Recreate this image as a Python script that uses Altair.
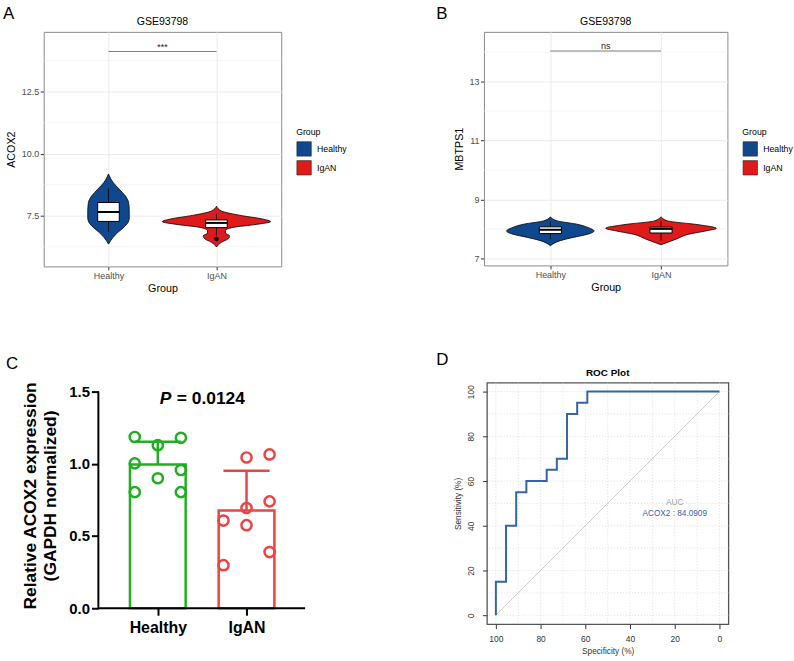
import altair as alt
import pandas as pd

FONT = "Liberation Sans"
GROUPS = ["Healthy", "IgAN"]
GROUP_POS = [1, 2]
VIOLIN_COLORS = ["#11478D", "#DE1A1A"]
BAR_COLORS = ["#22AD22", "#E84545"]
ROC_BLUE = "#3464A8"

# ---------------- Panel A: ACOX2 in GSE93798 ----------------
A_HEALTHY_VAL = [9.18, 8.85, 8.57, 8.29, 8.03, 7.70, 7.40, 7.23, 7.03, 6.83, 6.63, 6.36]
A_HEALTHY_DEN = [0, .041, .099, .157, .186, .192, .192, .181, .141, .087, .043, 0]
A_IGAN_VAL = [7.88, 7.69, 7.50, 7.37, 7.26, 7.15, 7.03, 6.90, 6.80, 6.69, 6.57, 6.43, 6.24]
A_IGAN_DEN = [0, .046, .239, .424, .502, .368, .154, .083, .083, .122, .108, .046, 0]
A_LO = [6.85, 6.70]
A_Q1 = [7.27, 7.02]
A_MED = [7.65, 7.21]
A_Q3 = [8.03, 7.33]
A_HI = [8.60, 7.58]
A_OUTLIER = [6.56]
A_Y_MAJOR = [7.5, 10.0, 12.5]
A_Y_MINOR = [6.25, 8.75, 11.25, 13.75]
A_SIG = "***"
A_BRACKET = 14.11

# ---------------- Panel B: MBTPS1 in GSE93798 ----------------
B_HEALTHY_VAL = [8.41, 8.27, 8.16, 8.05, 7.93, 7.82, 7.71, 7.60, 7.43]
B_HEALTHY_DEN = [0, .063, .240, .339, .395, .339, .206, .090, 0]
B_IGAN_VAL = [8.41, 8.27, 8.14, 8.02, 7.93, 7.82, 7.65, 7.46]
B_IGAN_DEN = [0, .060, .341, .500, .404, .251, .135, 0]
B_LO = [7.65, 7.60]
B_Q1 = [7.84, 7.86]
B_MED = [7.97, 8.00]
B_Q3 = [8.07, 8.06]
B_HI = [8.25, 8.28]
B_Y_MAJOR = [7, 9, 11, 13]
B_Y_MINOR = [8, 10, 12, 14]
B_SIG = "ns"
B_BRACKET = 14.04

DATASET = "GSE93798"

# ---------------- Panel C: qPCR, ACOX2 / GAPDH ----------------
C_HEALTHY = [1.186, 1.180, 1.129, 1.003, 0.957, 0.900, 0.804, 0.804]
C_HEALTHY_COL = [-1, 1, 0, -1, 1, 0, -1, 1]
C_IGAN = [1.044, 1.065, 0.607, 0.694, 0.575, 0.740, 0.389, 0.298]
C_IGAN_COL = [0, 1, -1, 0, 0, 1, 1, -1]
C_Y_TICKS = [0, 0.5, 1.0, 1.5]
C_Y_MAX = 1.562
C_X_DOMAIN = [-0.286, 2.66]
C_AXIS_X0 = 0.33
C_P_VALUE = "= 0.0124"

# ---------------- Panel D: ROC curve ----------------
ROC_SPEC = [100, 100, 95.45, 95.45, 90.91, 90.91, 86.36, 86.36, 77.27, 77.27,
            72.73, 72.73, 68.18, 68.18, 63.64, 63.64, 59.09, 59.09, 0]
ROC_SENS = [0, 15, 15, 40, 40, 55, 55, 60, 60, 65, 65, 70, 70, 90, 90, 95, 95, 100, 100]
ROC_TICKS = [0, 20, 40, 60, 80, 100]
ROC_GRID = [0, 10, 20, 30, 40, 50, 60, 70, 80, 90, 100]
AUC_LABEL = "ACOX2 : 84.0909"

BOX_HALF = 0.1
BAR_HALF = 0.314
DOT_SPREAD = 0.26
CAP_HALF = 0.26


def letter_layer(letter, dx, dy):
    return alt.Chart(pd.DataFrame({"t": [letter]})).mark_text(
        align="left", baseline="top", fontSize=17, font=FONT, color="black"
    ).encode(x=alt.value(dx), y=alt.value(dy), text="t:N")


def heading_layer(text, width, dy, size, weight):
    return alt.Chart(pd.DataFrame({"t": [text]})).mark_text(
        align="center", baseline="alphabetic", fontSize=size, fontWeight=weight,
        font=FONT, color="black"
    ).encode(x=alt.value(width / 2), y=alt.value(dy), text="t:N")


def violin_panel(h_val, h_den, i_val, i_den, lo, q1, med, q3, hi, outliers,
                 y_domain, y_major, y_minor, y_fmt, y_title, sig, bracket_y,
                 width, height, legend_x, legend_y, letter, letter_dx, letter_dy):
    rows = []
    for g, p, vals, dens in [(GROUPS[0], GROUP_POS[0], h_val, h_den),
                             (GROUPS[1], GROUP_POS[1], i_val, i_den)]:
        for v, d in zip(vals, dens):
            rows.append({"group": g, "pos": p, "value": v, "den": d})
    df_v = pd.DataFrame(rows)
    df_box = pd.DataFrame({"group": GROUPS, "pos": GROUP_POS, "lo": lo, "q1": q1,
                           "med": med, "q3": q3, "hi": hi})
    df_out = pd.DataFrame({"pos": [GROUP_POS[1]] * len(outliers), "value": outliers})

    xscale = alt.Scale(domain=[0.4, 2.6], nice=False, zero=False)
    yscale = alt.Scale(domain=y_domain, nice=False, zero=False)
    xaxis = alt.Axis(values=GROUP_POS, labelExpr="datum.value == 1 ? 'Healthy' : 'IgAN'",
                     title="Group", grid=True, gridColor="#EBEBEB", domain=False,
                     tickColor="#333333", tickSize=3.5, labelColor="#4D4D4D",
                     labelFontSize=9, labelFont=FONT, labelPadding=1.5,
                     titleFont=FONT, titleFontSize=10.8, titleFontWeight="normal",
                     titleColor="black", titlePadding=2)
    yaxis = alt.Axis(values=y_major, format=y_fmt, title=y_title, grid=True,
                     gridColor="#EBEBEB", domain=False, tickColor="#333333",
                     tickSize=3.5, labelColor="#4D4D4D", labelFontSize=9,
                     labelFont=FONT, labelPadding=1.5, titleFont=FONT,
                     titleFontSize=10.8, titleFontWeight="normal",
                     titleColor="black", titlePadding=5)

    def X(f, **kw):
        return alt.X(f, scale=xscale, axis=xaxis, **kw)

    def Y(f):
        return alt.Y(f, scale=yscale, axis=yaxis)

    minor = alt.Chart(pd.DataFrame({"v": y_minor})).mark_rule(
        color="#F0F0F0", strokeWidth=0.6).encode(y=Y("v:Q"))

    legend = alt.Legend(orient="none", legendX=legend_x, legendY=legend_y,
                        title="Group", titleFont=FONT, titleFontSize=8.8,
                        titleFontWeight="normal", titleColor="black", titlePadding=4,
                        labelFont=FONT, labelFontSize=8.8, labelColor="black",
                        labelOffset=5, symbolType="square", symbolSize=210,
                        symbolStrokeColor="#222222", symbolStrokeWidth=0.6,
                        symbolOpacity=1, rowPadding=1, padding=0)

    violin = alt.Chart(df_v).transform_calculate(
        xl="datum.pos - datum.den", xr="datum.pos + datum.den"
    ).mark_area(orient="horizontal", interpolate="monotone", stroke="black",
                strokeWidth=0.8, opacity=1).encode(
        y=Y("value:Q"), x=X("xl:Q", stack=False), x2="xr:Q",
        color=alt.Color("group:N", scale=alt.Scale(domain=GROUPS, range=VIOLIN_COLORS),
                        legend=legend))

    whisker = alt.Chart(df_box).mark_rule(color="black", strokeWidth=0.8).encode(
        x=X("pos:Q"), y=Y("lo:Q"), y2="hi:Q")
    box_base = alt.Chart(df_box).transform_calculate(
        xl=f"datum.pos - {BOX_HALF}", xr=f"datum.pos + {BOX_HALF}")
    box = box_base.mark_rect(fill="white", stroke="black", strokeWidth=1).encode(
        x=X("xl:Q"), x2="xr:Q", y=Y("q1:Q"), y2="q3:Q")
    median = box_base.mark_rule(color="black", strokeWidth=2).encode(
        x=X("xl:Q"), x2="xr:Q", y=Y("med:Q"))
    outlier = alt.Chart(df_out).mark_circle(color="black", size=22, opacity=1).encode(
        x=X("pos:Q"), y=Y("value:Q"))

    df_sig = pd.DataFrame({"x1": [GROUP_POS[0]], "x2": [GROUP_POS[1]],
                           "y": [bracket_y], "label": [sig]})
    bracket = alt.Chart(df_sig).mark_rule(color="#444444", strokeWidth=0.7).encode(
        x=X("x1:Q"), x2="x2:Q", y=Y("y:Q"))
    sig_text = alt.Chart(df_sig).transform_calculate(
        xm="(datum.x1 + datum.x2) / 2").mark_text(
        fontSize=9, font=FONT, color="#222222", baseline="alphabetic", dy=-2
    ).encode(x=X("xm:Q"), y=Y("y:Q"), text="label:N")

    return alt.layer(minor, violin, whisker, box, median, outlier, bracket, sig_text,
                     heading_layer(DATASET, width, -7.3, 10.6, "normal"),
                     letter_layer(letter, letter_dx, letter_dy)).properties(
        width=width, height=height,
        view=alt.ViewBackground(stroke="#8A8A8A", strokeWidth=1))


panel_a = violin_panel(A_HEALTHY_VAL, A_HEALTHY_DEN, A_IGAN_VAL, A_IGAN_DEN,
                       A_LO, A_Q1, A_MED, A_Q3, A_HI, A_OUTLIER,
                       [5.46, 14.9], A_Y_MAJOR, A_Y_MINOR, ".1f", "ACOX2",
                       A_SIG, A_BRACKET, 239, 236, 254, 97, "A", -41, -26.3)
panel_b = violin_panel(B_HEALTHY_VAL, B_HEALTHY_DEN, B_IGAN_VAL, B_IGAN_DEN,
                       B_LO, B_Q1, B_MED, B_Q3, B_HI, [],
                       [6.76, 14.69], B_Y_MAJOR, B_Y_MINOR, "d", "MBTPS1",
                       B_SIG, B_BRACKET, 245, 235, 260, 97, "B", -48, -26.3)

# ---------------- Panel C ----------------
df_c = pd.DataFrame({
    "group": [GROUPS[0]] * len(C_HEALTHY) + [GROUPS[1]] * len(C_IGAN),
    "pos": [GROUP_POS[0]] * len(C_HEALTHY) + [GROUP_POS[1]] * len(C_IGAN),
    "value": C_HEALTHY + C_IGAN,
    "col": C_HEALTHY_COL + C_IGAN_COL,
})
c_xscale = alt.Scale(domain=C_X_DOMAIN, nice=False, zero=False)
c_yscale = alt.Scale(domain=[0, C_Y_MAX], nice=False, zero=False)
c_xaxis = alt.Axis(values=GROUP_POS, labelExpr="datum.value == 1 ? 'Healthy' : 'IgAN'",
                   title=None, grid=False, domain=False,
                   tickColor="black", tickWidth=2, tickSize=7, labelColor="black",
                   labelFont=FONT, labelFontSize=16, labelFontWeight="bold",
                   labelPadding=4, zindex=1)
c_yaxis = alt.Axis(values=C_Y_TICKS, format=".1f", offset=-55,
                   title=["Relative ACOX2 expression", "(GAPDH normalized)"],
                   grid=False, domain=False, tickColor="black",
                   tickWidth=2, tickSize=7, labelColor="black", labelFont=FONT,
                   labelFontSize=15, labelFontWeight="bold", labelPadding=2,
                   titleFont=FONT, titleFontSize=17.5, titleFontWeight="bold",
                   titleColor="black", titleLineHeight=20, titlePadding=9, zindex=1)


def XC(f):
    return alt.X(f, scale=c_xscale, axis=c_xaxis)


def YC(f):
    return alt.Y(f, scale=c_yscale, axis=c_yaxis)


c_color = alt.Color("group:N", scale=alt.Scale(domain=GROUPS, range=BAR_COLORS), legend=None)
# axis lines: the y line stops at the last tick, the x line starts at the y line
df_axes = pd.DataFrame({"x0": [C_AXIS_X0], "x1": [C_X_DOMAIN[1]],
                        "y0": [C_Y_TICKS[0]], "y1": [C_Y_TICKS[-1]]})
c_yline = alt.Chart(df_axes).mark_rule(color="black", strokeWidth=2).encode(
    x=XC("x0:Q"), y=YC("y0:Q"), y2="y1:Q")
c_xline = alt.Chart(df_axes).mark_rule(color="black", strokeWidth=2).encode(
    x=XC("x0:Q"), x2="x1:Q", y=YC("y0:Q"))
c_stats = alt.Chart(df_c).transform_aggregate(
    mean="mean(value)", sd="stdev(value)", groupby=["group", "pos"]
).transform_calculate(
    xl=f"datum.pos - {BAR_HALF}", xr=f"datum.pos + {BAR_HALF}",
    cl=f"datum.pos - {CAP_HALF}", cr=f"datum.pos + {CAP_HALF}",
    hi="datum.mean + datum.sd", base="0")
c_bar = c_stats.mark_rect(filled=False, strokeWidth=2.5).encode(
    x=XC("xl:Q"), x2="xr:Q", y=YC("base:Q"), y2="mean:Q", color=c_color)
c_err = c_stats.mark_rule(strokeWidth=2.5).encode(
    x=XC("pos:Q"), y=YC("mean:Q"), y2="hi:Q", color=c_color)
c_cap = c_stats.mark_rule(strokeWidth=2.5).encode(
    x=XC("cl:Q"), x2="cr:Q", y=YC("hi:Q"), color=c_color)
c_dots = alt.Chart(df_c).transform_calculate(
    xp=f"datum.pos + datum.col * {DOT_SPREAD}").mark_point(
    shape="circle", filled=False, size=105, strokeWidth=2.5, opacity=1).encode(
    x=XC("xp:Q"), y=YC("value:Q"), color=c_color)
df_p = pd.DataFrame({"x": [1.5], "y": [1.416], "p": ["P"], "rest": [C_P_VALUE]})
c_p = alt.Chart(df_p).mark_text(align="right", baseline="alphabetic", dx=-31,
                                fontSize=17.5, fontWeight="bold", fontStyle="italic",
                                font=FONT, color="black").encode(
    x=XC("x:Q"), y=YC("y:Q"), text="p:N")
c_rest = alt.Chart(df_p).mark_text(align="left", baseline="alphabetic", dx=-25.5,
                                   fontSize=17.5, fontWeight="bold", font=FONT,
                                   color="black").encode(
    x=XC("x:Q"), y=YC("y:Q"), text="rest:N")
panel_c = alt.layer(c_bar, c_err, c_cap, c_dots, c_yline, c_xline, c_p, c_rest,
                    letter_layer("C", -38, -26.3)).properties(
    width=263, height=227, view=alt.ViewBackground(stroke="transparent"))

# ---------------- Panel D ----------------
d_xscale = alt.Scale(domain=[-4, 104], reverse=True, nice=False, zero=False)
d_yscale = alt.Scale(domain=[-4, 104], nice=False, zero=False)
d_xaxis = alt.Axis(values=ROC_TICKS, title="Specificity (%)", grid=False, domain=False,
                   tickColor="#333333", tickSize=4.5, labelColor="#333333",
                   labelFont=FONT, labelFontSize=8.5, labelPadding=6,
                   titleFont=FONT, titleFontSize=8.3, titleFontWeight="normal",
                   titleColor="#333333", titlePadding=4)
d_yaxis = alt.Axis(values=ROC_TICKS, title="Sensitivity (%)", grid=False, domain=False,
                   tickColor="#333333", tickSize=4.5, labelColor="#333333",
                   labelFont=FONT, labelFontSize=8.5, labelAngle=270,
                   labelAlign="center", labelBaseline="bottom", labelPadding=7,
                   titleFont=FONT, titleFontSize=8.3, titleFontWeight="normal",
                   titleColor="#333333", titlePadding=4)


def XD(f):
    return alt.X(f, scale=d_xscale, axis=d_xaxis)


def YD(f):
    return alt.Y(f, scale=d_yscale, axis=d_yaxis)


df_grid = pd.DataFrame({"g": ROC_GRID})
d_vgrid = alt.Chart(df_grid).mark_rule(color="#D6D6D6", strokeDash=[1, 2],
                                       strokeWidth=0.8).encode(x=XD("g:Q"))
d_hgrid = alt.Chart(df_grid).mark_rule(color="#D6D6D6", strokeDash=[1, 2],
                                       strokeWidth=0.8).encode(y=YD("g:Q"))
d_diag = alt.Chart(pd.DataFrame({"x1": [100], "y1": [0], "x2": [0], "y2": [100]})).mark_rule(
    color="#BDBDBD", strokeWidth=0.8).encode(x=XD("x1:Q"), y=YD("y1:Q"), x2="x2:Q", y2="y2:Q")
df_roc = pd.DataFrame({"spec": ROC_SPEC, "sens": ROC_SENS, "i": list(range(len(ROC_SPEC)))})
d_roc = alt.Chart(df_roc).mark_line(color=ROC_BLUE, strokeWidth=2).encode(
    x=XD("spec:Q"), y=YD("sens:Q"), order="i:Q")
df_auc = pd.DataFrame({"x": [20, 20], "y": [50.3, 45.4], "t": ["AUC", AUC_LABEL]})
d_auc_head = alt.Chart(df_auc.iloc[[0]]).mark_text(
    fontSize=8.3, font=FONT, color="#A0A0A0", baseline="middle").encode(
    x=XD("x:Q"), y=YD("y:Q"), text="t:N")
d_auc_val = alt.Chart(df_auc.iloc[[1]]).mark_text(
    fontSize=8.3, font=FONT, color=ROC_BLUE, baseline="middle").encode(
    x=XD("x:Q"), y=YD("y:Q"), text="t:N")
panel_d = alt.layer(d_vgrid, d_hgrid, d_diag, d_roc, d_auc_head, d_auc_val,
                    heading_layer("ROC Plot", 243, -7, 10, "bold"),
                    letter_layer("D", -51, -30.3)).properties(
    width=243, height=243,
    view=alt.ViewBackground(stroke="#555555", strokeWidth=1.3))


def indep(c):
    return c.resolve_scale(x="independent", y="independent", color="independent"
                           ).resolve_legend(color="independent")


top_row = indep(alt.hconcat(panel_a, panel_b, spacing=88))
bottom_row = indep(alt.hconcat(panel_c, panel_d, spacing=129))
chart = indep(alt.vconcat(top_row, bottom_row, spacing=57)).properties(
    padding={"left": 2, "top": 2, "right": 0, "bottom": 0}
).configure_view(stroke="transparent").configure(font=FONT)

chart.save("out.html", embed_options={"renderer": "svg", "actions": False})
